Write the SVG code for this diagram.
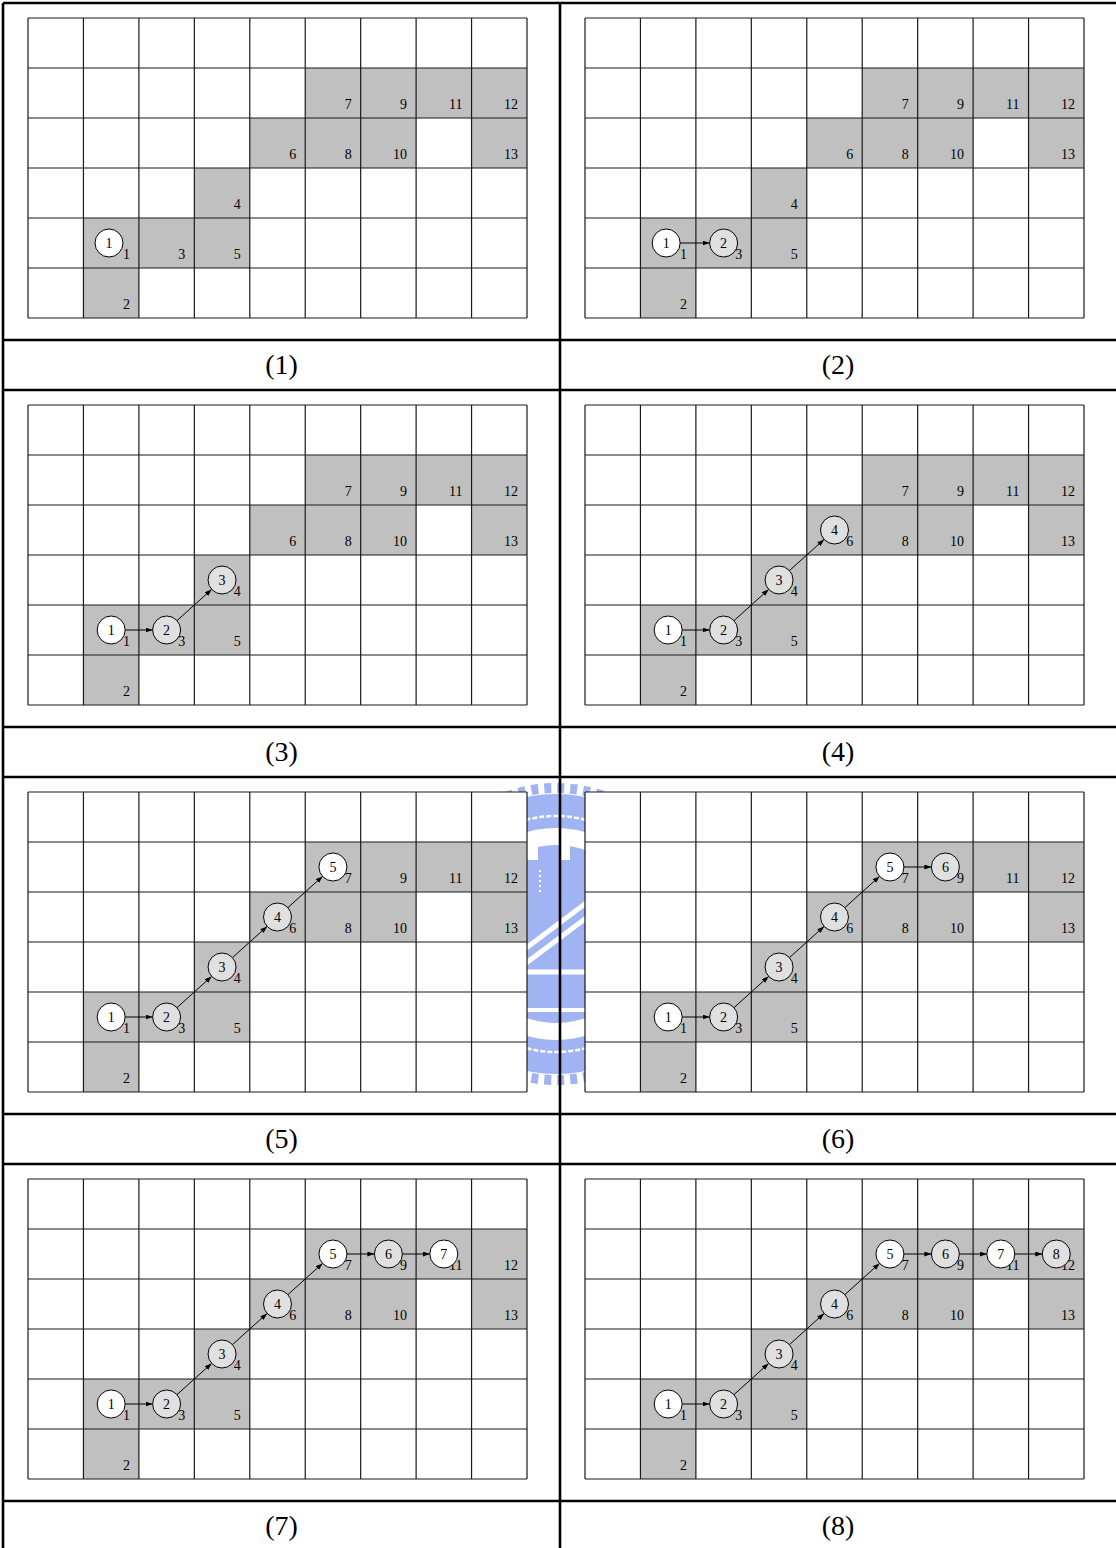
<svg xmlns="http://www.w3.org/2000/svg" width="1116" height="1548" viewBox="0 0 1116 1548">
<style>
.bg{fill:#fff}
.sh{fill:#c0c0c0}
.gl{fill:none;stroke:#1a1a1a;stroke-width:1.2}
.cn{font-family:"Liberation Serif","Times New Roman",Times,serif;font-size:14px;text-anchor:end;fill:#000}
.nd circle{stroke:#000;stroke-width:1}
.w{fill:#fff}
.g{fill:#e0e0e0}
.nt{font-family:"Liberation Serif","Times New Roman",Times,serif;font-size:14px;text-anchor:middle;fill:#000}
.ar{stroke:#000;stroke-width:1;fill:none;marker-end:url(#ah)}
.fr{stroke:#000;stroke-width:2.6;fill:none}
.lb{font-family:"Liberation Serif","Times New Roman",Times,serif;font-size:28px;text-anchor:middle;fill:#000}
.wm{fill:#a0b3f2}
</style>
<defs>
<marker id="ah" markerUnits="userSpaceOnUse" markerWidth="8" markerHeight="6" refX="7" refY="2.5" orient="auto"><path d="M0,0L7,2.5L0,5z" fill="#000"/></marker>
<clipPath id="disc"><circle cx="556" cy="934" r="89"/></clipPath>
</defs>
<rect x="0" y="0" width="1116" height="1548" fill="#fff"/>
<g id="watermark">
<circle cx="556" cy="934" r="146" fill="none" stroke="#a0b3f2" stroke-width="10" stroke-dasharray="7 6"/>
<circle cx="556" cy="934" r="123" fill="none" stroke="#a0b3f2" stroke-width="34"/>
<circle cx="556" cy="934" r="118" fill="none" stroke="#fff" stroke-width="2.5" stroke-dasharray="5 2"/>
<g clip-path="url(#disc)">
<rect class="wm" x="440" y="860" width="240" height="180"/>
<rect class="wm" x="538" y="845" width="22" height="20"/>
<rect class="wm" x="570" y="845" width="25" height="20"/>
<path d="M540,870V895" stroke="#fff" stroke-width="2" stroke-dasharray="2 3"/>
<path d="M470,1005L650,870M470,990L650,855" stroke="#fff" stroke-width="5"/>
<path d="M440,972H680" stroke="#fff" stroke-width="5"/>
<path d="M440,1010H680" stroke="#fff" stroke-width="4"/>
</g>
</g>

<g id="panel1" transform="translate(28,18)">
<g class="grid">
<rect class="bg" x="0" y="0" width="499" height="300"/>
<rect class="sh" x="55.44" y="200" width="55.44" height="50"/><rect class="sh" x="55.44" y="250" width="55.44" height="50"/><rect class="sh" x="110.89" y="200" width="55.44" height="50"/><rect class="sh" x="166.33" y="150" width="55.44" height="50"/><rect class="sh" x="166.33" y="200" width="55.44" height="50"/><rect class="sh" x="221.78" y="100" width="55.44" height="50"/><rect class="sh" x="277.22" y="50" width="55.44" height="50"/><rect class="sh" x="277.22" y="100" width="55.44" height="50"/><rect class="sh" x="332.67" y="50" width="55.44" height="50"/><rect class="sh" x="332.67" y="100" width="55.44" height="50"/><rect class="sh" x="388.11" y="50" width="55.44" height="50"/><rect class="sh" x="443.56" y="50" width="55.44" height="50"/><rect class="sh" x="443.56" y="100" width="55.44" height="50"/>
<path class="gl" d="M0,0V300M55.44,0V300M110.89,0V300M166.33,0V300M221.78,0V300M277.22,0V300M332.67,0V300M388.11,0V300M443.56,0V300M499,0V300M0,0H499M0,50H499M0,100H499M0,150H499M0,200H499M0,250H499M0,300H499"/>
<text class="cn" x="101.9" y="241">1</text><text class="cn" x="101.9" y="291">2</text><text class="cn" x="157.3" y="241">3</text><text class="cn" x="212.8" y="191">4</text><text class="cn" x="212.8" y="241">5</text><text class="cn" x="268.2" y="141">6</text><text class="cn" x="323.7" y="91">7</text><text class="cn" x="323.7" y="141">8</text><text class="cn" x="379.1" y="91">9</text><text class="cn" x="379.1" y="141">10</text><text class="cn" x="434.6" y="91">11</text><text class="cn" x="490" y="91">12</text><text class="cn" x="490" y="141">13</text>
</g>
<g id="p1-n1" class="nd"><circle class="w" cx="81" cy="225" r="14"/><text class="nt" x="81" y="230">1</text></g>
</g>

<g id="panel2" transform="translate(585,18)">
<g class="grid">
<rect class="bg" x="0" y="0" width="499" height="300"/>
<rect class="sh" x="55.44" y="200" width="55.44" height="50"/><rect class="sh" x="55.44" y="250" width="55.44" height="50"/><rect class="sh" x="110.89" y="200" width="55.44" height="50"/><rect class="sh" x="166.33" y="150" width="55.44" height="50"/><rect class="sh" x="166.33" y="200" width="55.44" height="50"/><rect class="sh" x="221.78" y="100" width="55.44" height="50"/><rect class="sh" x="277.22" y="50" width="55.44" height="50"/><rect class="sh" x="277.22" y="100" width="55.44" height="50"/><rect class="sh" x="332.67" y="50" width="55.44" height="50"/><rect class="sh" x="332.67" y="100" width="55.44" height="50"/><rect class="sh" x="388.11" y="50" width="55.44" height="50"/><rect class="sh" x="443.56" y="50" width="55.44" height="50"/><rect class="sh" x="443.56" y="100" width="55.44" height="50"/>
<path class="gl" d="M0,0V300M55.44,0V300M110.89,0V300M166.33,0V300M221.78,0V300M277.22,0V300M332.67,0V300M388.11,0V300M443.56,0V300M499,0V300M0,0H499M0,50H499M0,100H499M0,150H499M0,200H499M0,250H499M0,300H499"/>
<text class="cn" x="101.9" y="241">1</text><text class="cn" x="101.9" y="291">2</text><text class="cn" x="157.3" y="241">3</text><text class="cn" x="212.8" y="191">4</text><text class="cn" x="212.8" y="241">5</text><text class="cn" x="268.2" y="141">6</text><text class="cn" x="323.7" y="91">7</text><text class="cn" x="323.7" y="141">8</text><text class="cn" x="379.1" y="91">9</text><text class="cn" x="379.1" y="141">10</text><text class="cn" x="434.6" y="91">11</text><text class="cn" x="490" y="91">12</text><text class="cn" x="490" y="141">13</text>
</g>
<g id="p2-connectors"><path class="ar" d="M95.17,225H124.61"/></g>
<g id="p2-n1" class="nd"><circle class="w" cx="81.17" cy="225" r="14"/><text class="nt" x="81.17" y="230">1</text></g>
<g id="p2-n2" class="nd"><circle class="g" cx="138.61" cy="225" r="14"/><text class="nt" x="138.61" y="230">2</text></g>
</g>

<g id="panel3" transform="translate(28,405)">
<g class="grid">
<rect class="bg" x="0" y="0" width="499" height="300"/>
<rect class="sh" x="55.44" y="200" width="55.44" height="50"/><rect class="sh" x="55.44" y="250" width="55.44" height="50"/><rect class="sh" x="110.89" y="200" width="55.44" height="50"/><rect class="sh" x="166.33" y="150" width="55.44" height="50"/><rect class="sh" x="166.33" y="200" width="55.44" height="50"/><rect class="sh" x="221.78" y="100" width="55.44" height="50"/><rect class="sh" x="277.22" y="50" width="55.44" height="50"/><rect class="sh" x="277.22" y="100" width="55.44" height="50"/><rect class="sh" x="332.67" y="50" width="55.44" height="50"/><rect class="sh" x="332.67" y="100" width="55.44" height="50"/><rect class="sh" x="388.11" y="50" width="55.44" height="50"/><rect class="sh" x="443.56" y="50" width="55.44" height="50"/><rect class="sh" x="443.56" y="100" width="55.44" height="50"/>
<path class="gl" d="M0,0V300M55.44,0V300M110.89,0V300M166.33,0V300M221.78,0V300M277.22,0V300M332.67,0V300M388.11,0V300M443.56,0V300M499,0V300M0,0H499M0,50H499M0,100H499M0,150H499M0,200H499M0,250H499M0,300H499"/>
<text class="cn" x="101.9" y="241">1</text><text class="cn" x="101.9" y="291">2</text><text class="cn" x="157.3" y="241">3</text><text class="cn" x="212.8" y="191">4</text><text class="cn" x="212.8" y="241">5</text><text class="cn" x="268.2" y="141">6</text><text class="cn" x="323.7" y="91">7</text><text class="cn" x="323.7" y="141">8</text><text class="cn" x="379.1" y="91">9</text><text class="cn" x="379.1" y="141">10</text><text class="cn" x="434.6" y="91">11</text><text class="cn" x="490" y="91">12</text><text class="cn" x="490" y="141">13</text>
</g>
<g id="p3-connectors"><path class="ar" d="M97.17,225H124.61"/><path class="ar" d="M149.01,215.62L183.66,184.38"/></g>
<g id="p3-n1" class="nd"><circle class="w" cx="83.17" cy="225" r="14"/><text class="nt" x="83.17" y="230">1</text></g>
<g id="p3-n2" class="nd"><circle class="g" cx="138.61" cy="225" r="14"/><text class="nt" x="138.61" y="230">2</text></g>
<g id="p3-n3" class="nd"><circle class="g" cx="194.06" cy="175" r="14"/><text class="nt" x="194.06" y="180">3</text></g>
</g>

<g id="panel4" transform="translate(585,405)">
<g class="grid">
<rect class="bg" x="0" y="0" width="499" height="300"/>
<rect class="sh" x="55.44" y="200" width="55.44" height="50"/><rect class="sh" x="55.44" y="250" width="55.44" height="50"/><rect class="sh" x="110.89" y="200" width="55.44" height="50"/><rect class="sh" x="166.33" y="150" width="55.44" height="50"/><rect class="sh" x="166.33" y="200" width="55.44" height="50"/><rect class="sh" x="221.78" y="100" width="55.44" height="50"/><rect class="sh" x="277.22" y="50" width="55.44" height="50"/><rect class="sh" x="277.22" y="100" width="55.44" height="50"/><rect class="sh" x="332.67" y="50" width="55.44" height="50"/><rect class="sh" x="332.67" y="100" width="55.44" height="50"/><rect class="sh" x="388.11" y="50" width="55.44" height="50"/><rect class="sh" x="443.56" y="50" width="55.44" height="50"/><rect class="sh" x="443.56" y="100" width="55.44" height="50"/>
<path class="gl" d="M0,0V300M55.44,0V300M110.89,0V300M166.33,0V300M221.78,0V300M277.22,0V300M332.67,0V300M388.11,0V300M443.56,0V300M499,0V300M0,0H499M0,50H499M0,100H499M0,150H499M0,200H499M0,250H499M0,300H499"/>
<text class="cn" x="101.9" y="241">1</text><text class="cn" x="101.9" y="291">2</text><text class="cn" x="157.3" y="241">3</text><text class="cn" x="212.8" y="191">4</text><text class="cn" x="212.8" y="241">5</text><text class="cn" x="268.2" y="141">6</text><text class="cn" x="323.7" y="91">7</text><text class="cn" x="323.7" y="141">8</text><text class="cn" x="379.1" y="91">9</text><text class="cn" x="379.1" y="141">10</text><text class="cn" x="434.6" y="91">11</text><text class="cn" x="490" y="91">12</text><text class="cn" x="490" y="141">13</text>
</g>
<g id="p4-connectors"><path class="ar" d="M97.17,225H124.61"/><path class="ar" d="M149.01,215.62L183.66,184.38"/><path class="ar" d="M204.46,165.62L239.1,134.38"/></g>
<g id="p4-n1" class="nd"><circle class="w" cx="83.17" cy="225" r="14"/><text class="nt" x="83.17" y="230">1</text></g>
<g id="p4-n2" class="nd"><circle class="g" cx="138.61" cy="225" r="14"/><text class="nt" x="138.61" y="230">2</text></g>
<g id="p4-n3" class="nd"><circle class="g" cx="194.06" cy="175" r="14"/><text class="nt" x="194.06" y="180">3</text></g>
<g id="p4-n4" class="nd"><circle class="g" cx="249.5" cy="125" r="14"/><text class="nt" x="249.5" y="130">4</text></g>
</g>

<g id="panel5" transform="translate(28,792)">
<g class="grid">
<rect class="bg" x="0" y="0" width="499" height="300"/>
<rect class="sh" x="55.44" y="200" width="55.44" height="50"/><rect class="sh" x="55.44" y="250" width="55.44" height="50"/><rect class="sh" x="110.89" y="200" width="55.44" height="50"/><rect class="sh" x="166.33" y="150" width="55.44" height="50"/><rect class="sh" x="166.33" y="200" width="55.44" height="50"/><rect class="sh" x="221.78" y="100" width="55.44" height="50"/><rect class="sh" x="277.22" y="50" width="55.44" height="50"/><rect class="sh" x="277.22" y="100" width="55.44" height="50"/><rect class="sh" x="332.67" y="50" width="55.44" height="50"/><rect class="sh" x="332.67" y="100" width="55.44" height="50"/><rect class="sh" x="388.11" y="50" width="55.44" height="50"/><rect class="sh" x="443.56" y="50" width="55.44" height="50"/><rect class="sh" x="443.56" y="100" width="55.44" height="50"/>
<path class="gl" d="M0,0V300M55.44,0V300M110.89,0V300M166.33,0V300M221.78,0V300M277.22,0V300M332.67,0V300M388.11,0V300M443.56,0V300M499,0V300M0,0H499M0,50H499M0,100H499M0,150H499M0,200H499M0,250H499M0,300H499"/>
<text class="cn" x="101.9" y="241">1</text><text class="cn" x="101.9" y="291">2</text><text class="cn" x="157.3" y="241">3</text><text class="cn" x="212.8" y="191">4</text><text class="cn" x="212.8" y="241">5</text><text class="cn" x="268.2" y="141">6</text><text class="cn" x="323.7" y="91">7</text><text class="cn" x="323.7" y="141">8</text><text class="cn" x="379.1" y="91">9</text><text class="cn" x="379.1" y="141">10</text><text class="cn" x="434.6" y="91">11</text><text class="cn" x="490" y="91">12</text><text class="cn" x="490" y="141">13</text>
</g>
<g id="p5-connectors"><path class="ar" d="M97.17,225H124.61"/><path class="ar" d="M149.01,215.62L183.66,184.38"/><path class="ar" d="M204.46,165.62L239.1,134.38"/><path class="ar" d="M259.9,115.62L294.54,84.38"/></g>
<g id="p5-n1" class="nd"><circle class="w" cx="83.17" cy="225" r="14"/><text class="nt" x="83.17" y="230">1</text></g>
<g id="p5-n2" class="nd"><circle class="g" cx="138.61" cy="225" r="14"/><text class="nt" x="138.61" y="230">2</text></g>
<g id="p5-n3" class="nd"><circle class="g" cx="194.06" cy="175" r="14"/><text class="nt" x="194.06" y="180">3</text></g>
<g id="p5-n4" class="nd"><circle class="g" cx="249.5" cy="125" r="14"/><text class="nt" x="249.5" y="130">4</text></g>
<g id="p5-n5" class="nd"><circle class="w" cx="304.94" cy="75" r="14"/><text class="nt" x="304.94" y="80">5</text></g>
</g>

<g id="panel6" transform="translate(585,792)">
<g class="grid">
<rect class="bg" x="0" y="0" width="499" height="300"/>
<rect class="sh" x="55.44" y="200" width="55.44" height="50"/><rect class="sh" x="55.44" y="250" width="55.44" height="50"/><rect class="sh" x="110.89" y="200" width="55.44" height="50"/><rect class="sh" x="166.33" y="150" width="55.44" height="50"/><rect class="sh" x="166.33" y="200" width="55.44" height="50"/><rect class="sh" x="221.78" y="100" width="55.44" height="50"/><rect class="sh" x="277.22" y="50" width="55.44" height="50"/><rect class="sh" x="277.22" y="100" width="55.44" height="50"/><rect class="sh" x="332.67" y="50" width="55.44" height="50"/><rect class="sh" x="332.67" y="100" width="55.44" height="50"/><rect class="sh" x="388.11" y="50" width="55.44" height="50"/><rect class="sh" x="443.56" y="50" width="55.44" height="50"/><rect class="sh" x="443.56" y="100" width="55.44" height="50"/>
<path class="gl" d="M0,0V300M55.44,0V300M110.89,0V300M166.33,0V300M221.78,0V300M277.22,0V300M332.67,0V300M388.11,0V300M443.56,0V300M499,0V300M0,0H499M0,50H499M0,100H499M0,150H499M0,200H499M0,250H499M0,300H499"/>
<text class="cn" x="101.9" y="241">1</text><text class="cn" x="101.9" y="291">2</text><text class="cn" x="157.3" y="241">3</text><text class="cn" x="212.8" y="191">4</text><text class="cn" x="212.8" y="241">5</text><text class="cn" x="268.2" y="141">6</text><text class="cn" x="323.7" y="91">7</text><text class="cn" x="323.7" y="141">8</text><text class="cn" x="379.1" y="91">9</text><text class="cn" x="379.1" y="141">10</text><text class="cn" x="434.6" y="91">11</text><text class="cn" x="490" y="91">12</text><text class="cn" x="490" y="141">13</text>
</g>
<g id="p6-connectors"><path class="ar" d="M97.17,225H124.61"/><path class="ar" d="M149.01,215.62L183.66,184.38"/><path class="ar" d="M204.46,165.62L239.1,134.38"/><path class="ar" d="M259.9,115.62L294.54,84.38"/><path class="ar" d="M318.94,75H346.39"/></g>
<g id="p6-n1" class="nd"><circle class="w" cx="83.17" cy="225" r="14"/><text class="nt" x="83.17" y="230">1</text></g>
<g id="p6-n2" class="nd"><circle class="g" cx="138.61" cy="225" r="14"/><text class="nt" x="138.61" y="230">2</text></g>
<g id="p6-n3" class="nd"><circle class="g" cx="194.06" cy="175" r="14"/><text class="nt" x="194.06" y="180">3</text></g>
<g id="p6-n4" class="nd"><circle class="g" cx="249.5" cy="125" r="14"/><text class="nt" x="249.5" y="130">4</text></g>
<g id="p6-n5" class="nd"><circle class="w" cx="304.94" cy="75" r="14"/><text class="nt" x="304.94" y="80">5</text></g>
<g id="p6-n6" class="nd"><circle class="g" cx="360.39" cy="75" r="14"/><text class="nt" x="360.39" y="80">6</text></g>
</g>

<g id="panel7" transform="translate(28,1179)">
<g class="grid">
<rect class="bg" x="0" y="0" width="499" height="300"/>
<rect class="sh" x="55.44" y="200" width="55.44" height="50"/><rect class="sh" x="55.44" y="250" width="55.44" height="50"/><rect class="sh" x="110.89" y="200" width="55.44" height="50"/><rect class="sh" x="166.33" y="150" width="55.44" height="50"/><rect class="sh" x="166.33" y="200" width="55.44" height="50"/><rect class="sh" x="221.78" y="100" width="55.44" height="50"/><rect class="sh" x="277.22" y="50" width="55.44" height="50"/><rect class="sh" x="277.22" y="100" width="55.44" height="50"/><rect class="sh" x="332.67" y="50" width="55.44" height="50"/><rect class="sh" x="332.67" y="100" width="55.44" height="50"/><rect class="sh" x="388.11" y="50" width="55.44" height="50"/><rect class="sh" x="443.56" y="50" width="55.44" height="50"/><rect class="sh" x="443.56" y="100" width="55.44" height="50"/>
<path class="gl" d="M0,0V300M55.44,0V300M110.89,0V300M166.33,0V300M221.78,0V300M277.22,0V300M332.67,0V300M388.11,0V300M443.56,0V300M499,0V300M0,0H499M0,50H499M0,100H499M0,150H499M0,200H499M0,250H499M0,300H499"/>
<text class="cn" x="101.9" y="241">1</text><text class="cn" x="101.9" y="291">2</text><text class="cn" x="157.3" y="241">3</text><text class="cn" x="212.8" y="191">4</text><text class="cn" x="212.8" y="241">5</text><text class="cn" x="268.2" y="141">6</text><text class="cn" x="323.7" y="91">7</text><text class="cn" x="323.7" y="141">8</text><text class="cn" x="379.1" y="91">9</text><text class="cn" x="379.1" y="141">10</text><text class="cn" x="434.6" y="91">11</text><text class="cn" x="490" y="91">12</text><text class="cn" x="490" y="141">13</text>
</g>
<g id="p7-connectors"><path class="ar" d="M97.17,225H124.61"/><path class="ar" d="M149.01,215.62L183.66,184.38"/><path class="ar" d="M204.46,165.62L239.1,134.38"/><path class="ar" d="M259.9,115.62L294.54,84.38"/><path class="ar" d="M318.94,75H346.39"/><path class="ar" d="M374.39,75H401.83"/></g>
<g id="p7-n1" class="nd"><circle class="w" cx="83.17" cy="225" r="14"/><text class="nt" x="83.17" y="230">1</text></g>
<g id="p7-n2" class="nd"><circle class="g" cx="138.61" cy="225" r="14"/><text class="nt" x="138.61" y="230">2</text></g>
<g id="p7-n3" class="nd"><circle class="g" cx="194.06" cy="175" r="14"/><text class="nt" x="194.06" y="180">3</text></g>
<g id="p7-n4" class="nd"><circle class="g" cx="249.5" cy="125" r="14"/><text class="nt" x="249.5" y="130">4</text></g>
<g id="p7-n5" class="nd"><circle class="w" cx="304.94" cy="75" r="14"/><text class="nt" x="304.94" y="80">5</text></g>
<g id="p7-n6" class="nd"><circle class="g" cx="360.39" cy="75" r="14"/><text class="nt" x="360.39" y="80">6</text></g>
<g id="p7-n7" class="nd"><circle class="w" cx="415.83" cy="75" r="14"/><text class="nt" x="415.83" y="80">7</text></g>
</g>

<g id="panel8" transform="translate(585,1179)">
<g class="grid">
<rect class="bg" x="0" y="0" width="499" height="300"/>
<rect class="sh" x="55.44" y="200" width="55.44" height="50"/><rect class="sh" x="55.44" y="250" width="55.44" height="50"/><rect class="sh" x="110.89" y="200" width="55.44" height="50"/><rect class="sh" x="166.33" y="150" width="55.44" height="50"/><rect class="sh" x="166.33" y="200" width="55.44" height="50"/><rect class="sh" x="221.78" y="100" width="55.44" height="50"/><rect class="sh" x="277.22" y="50" width="55.44" height="50"/><rect class="sh" x="277.22" y="100" width="55.44" height="50"/><rect class="sh" x="332.67" y="50" width="55.44" height="50"/><rect class="sh" x="332.67" y="100" width="55.44" height="50"/><rect class="sh" x="388.11" y="50" width="55.44" height="50"/><rect class="sh" x="443.56" y="50" width="55.44" height="50"/><rect class="sh" x="443.56" y="100" width="55.44" height="50"/>
<path class="gl" d="M0,0V300M55.44,0V300M110.89,0V300M166.33,0V300M221.78,0V300M277.22,0V300M332.67,0V300M388.11,0V300M443.56,0V300M499,0V300M0,0H499M0,50H499M0,100H499M0,150H499M0,200H499M0,250H499M0,300H499"/>
<text class="cn" x="101.9" y="241">1</text><text class="cn" x="101.9" y="291">2</text><text class="cn" x="157.3" y="241">3</text><text class="cn" x="212.8" y="191">4</text><text class="cn" x="212.8" y="241">5</text><text class="cn" x="268.2" y="141">6</text><text class="cn" x="323.7" y="91">7</text><text class="cn" x="323.7" y="141">8</text><text class="cn" x="379.1" y="91">9</text><text class="cn" x="379.1" y="141">10</text><text class="cn" x="434.6" y="91">11</text><text class="cn" x="490" y="91">12</text><text class="cn" x="490" y="141">13</text>
</g>
<g id="p8-connectors"><path class="ar" d="M97.17,225H124.61"/><path class="ar" d="M149.01,215.62L183.66,184.38"/><path class="ar" d="M204.46,165.62L239.1,134.38"/><path class="ar" d="M259.9,115.62L294.54,84.38"/><path class="ar" d="M318.94,75H346.39"/><path class="ar" d="M374.39,75H401.83"/><path class="ar" d="M429.83,75H457.28"/></g>
<g id="p8-n1" class="nd"><circle class="w" cx="83.17" cy="225" r="14"/><text class="nt" x="83.17" y="230">1</text></g>
<g id="p8-n2" class="nd"><circle class="g" cx="138.61" cy="225" r="14"/><text class="nt" x="138.61" y="230">2</text></g>
<g id="p8-n3" class="nd"><circle class="g" cx="194.06" cy="175" r="14"/><text class="nt" x="194.06" y="180">3</text></g>
<g id="p8-n4" class="nd"><circle class="g" cx="249.5" cy="125" r="14"/><text class="nt" x="249.5" y="130">4</text></g>
<g id="p8-n5" class="nd"><circle class="w" cx="304.94" cy="75" r="14"/><text class="nt" x="304.94" y="80">5</text></g>
<g id="p8-n6" class="nd"><circle class="g" cx="360.39" cy="75" r="14"/><text class="nt" x="360.39" y="80">6</text></g>
<g id="p8-n7" class="nd"><circle class="w" cx="415.83" cy="75" r="14"/><text class="nt" x="415.83" y="80">7</text></g>
<g id="p8-n8" class="nd"><circle class="g" cx="471.28" cy="75" r="14"/><text class="nt" x="471.28" y="80">8</text></g>
</g>

<g id="frame">
<path class="fr" d="M3,3H1116M3,3V1548M560,3V1548M3,340H1116M3,390H1116M3,727H1116M3,777H1116M3,1114H1116M3,1164H1116M3,1501H1116"/>
</g>
<g id="labels">
<text class="lb" x="281.5" y="374">(1)</text><text class="lb" x="838" y="374">(2)</text>
<text class="lb" x="281.5" y="761">(3)</text><text class="lb" x="838" y="761">(4)</text>
<text class="lb" x="281.5" y="1148">(5)</text><text class="lb" x="838" y="1148">(6)</text>
<text class="lb" x="281.5" y="1535">(7)</text><text class="lb" x="838" y="1535">(8)</text>
</g>
</svg>
